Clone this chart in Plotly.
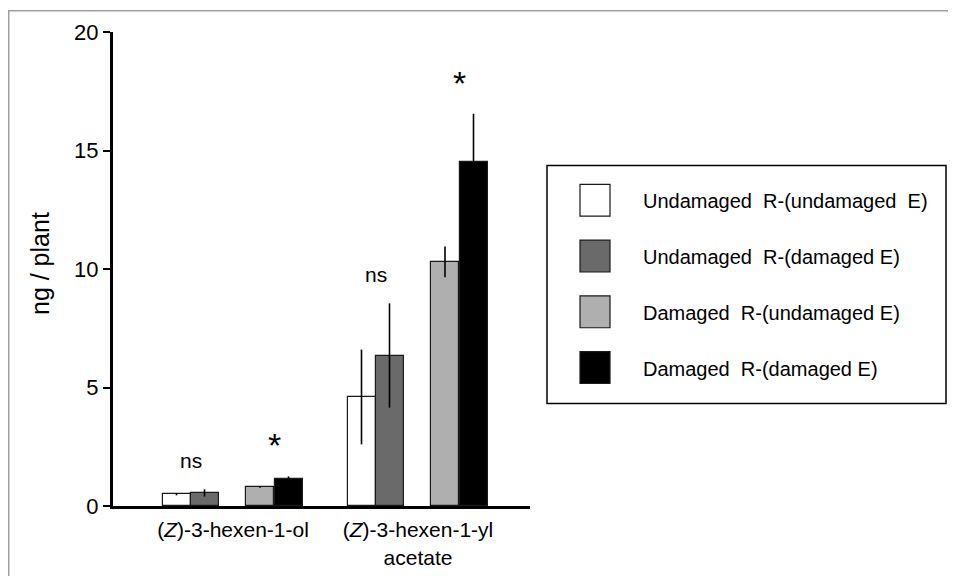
import plotly.graph_objects as go

categories = ["(<i>Z</i>)-3-hexen-1-ol", "(<i>Z</i>)-3-hexen-1-yl<br>acetate"]
series_names = [
    "Undamaged  R-(undamaged  E)",
    "Undamaged  R-(damaged E)",
    "Damaged  R-(undamaged E)",
    "Damaged  R-(damaged E)",
]
series_values = [
    [0.50, 4.60],
    [0.55, 6.35],
    [0.80, 10.30],
    [1.15, 14.50],
]
series_errors = [
    [0.05, 2.00],
    [0.15, 2.20],
    [0.03, 0.65],
    [0.10, 2.05],
]
series_colors = ["#ffffff", "#6a6a6a", "#afafaf", "#000000"]
sig_labels = [["ns", "*"], ["ns", "*"]]  # per category: [undamaged R pair, damaged R pair]
y_ticks = [0, 5, 10, 15, 20]
y_title = "ng / plant"

# layout geometry (the page adds an 8px body margin)
W, H = 956, 576
OFF = 8
L, T = 105, 22
PW, PH = 417, 476
R = W - L - PW
B = H - T - PH
group_centers = [120, 305]
offsets = [-56.5, -28.5, 27, 55.5]
bar_w = 28
FONT = "Liberation Sans, Arial, Helvetica, sans-serif"


def px2paper_x(px):
    return (px - OFF - L) / PW


def px2paper_y(py):
    return 1 - (py - OFF - T) / PH


fig = go.Figure()
for i, name in enumerate(series_names):
    fig.add_trace(go.Bar(
        x=[c + offsets[i] for c in group_centers],
        y=series_values[i],
        width=bar_w,
        name=name,
        marker=dict(color=series_colors[i], line=dict(color="#1a1a1a", width=1.2)),
        error_y=dict(type="data", array=series_errors[i], color="#000000",
                     thickness=1.6, width=0),
        showlegend=False,
    ))

# significance annotations
for g, c in enumerate(group_centers):
    for p in range(2):
        top = max(series_values[2 * p][g] + series_errors[2 * p][g],
                  series_values[2 * p + 1][g] + series_errors[2 * p + 1][g])
        lab = sig_labels[g][p]
        xc = c + (offsets[2 * p] + offsets[2 * p + 1]) / 2
        fig.add_annotation(x=xc, y=top, text=lab, showarrow=False,
                           yshift=(29 if lab == "ns" else 31),
                           font=dict(size=(21 if lab == "ns" else 34), color="#000000"))

shapes = []
# outer frame
shapes.append(dict(type="rect", xref="paper", yref="paper",
                   x0=(0.75 - L) / PW, x1=(1100 - L) / PW,
                   y0=-1, y1=1 + (T - 0.75) / PH,
                   line=dict(color="#a0a0a0", width=1.5), fillcolor="rgba(0,0,0,0)", layer="below"))
# legend box
shapes.append(dict(type="rect", xref="paper", yref="paper",
                   x0=px2paper_x(547), x1=px2paper_x(946),
                   y0=px2paper_y(403), y1=px2paper_y(164),
                   line=dict(color="#000000", width=1.5), fillcolor="rgba(0,0,0,0)", layer="above"))
row_y = [199, 255, 311, 367]
for i, name in enumerate(series_names):
    yc = row_y[i]
    shapes.append(dict(type="rect", xref="paper", yref="paper",
                       x0=px2paper_x(580), x1=px2paper_x(610),
                       y0=px2paper_y(yc + 16), y1=px2paper_y(yc - 16),
                       line=dict(color="#1a1a1a", width=1.2), fillcolor=series_colors[i]))
    fig.add_annotation(xref="paper", yref="paper", x=px2paper_x(641), y=px2paper_y(yc + 1),
                       xanchor="left", yanchor="middle", text=name, showarrow=False,
                       font=dict(size=20, color="#000000"))

# y-axis title
fig.add_annotation(xref="paper", yref="paper", x=px2paper_x(40), y=px2paper_y(263),
                   xanchor="center", yanchor="middle", text=y_title, textangle=-90,
                   showarrow=False, font=dict(size=25, color="#000000"))

fig.update_layout(
    width=W, height=H,
    margin=dict(l=L, r=R, t=T, b=B),
    paper_bgcolor="#ffffff", plot_bgcolor="#ffffff",
    font=dict(family=FONT, size=20, color="#000000"),
    shapes=shapes,
    bargap=0,
    xaxis=dict(range=[0, PW], tickvals=group_centers, ticktext=categories,
               showgrid=False, zeroline=False, showline=True, linecolor="#000000",
               linewidth=3, ticks="", tickfont=dict(size=21), ticklabelstandoff=3),
    yaxis=dict(range=[0, 20], tickvals=y_ticks, showgrid=False, zeroline=False,
               showline=True, linecolor="#000000", linewidth=3, ticks="outside",
               ticklen=7, tickwidth=2, tickcolor="#000000", tickfont=dict(size=22)),
)

fig.write_html("out.html")
